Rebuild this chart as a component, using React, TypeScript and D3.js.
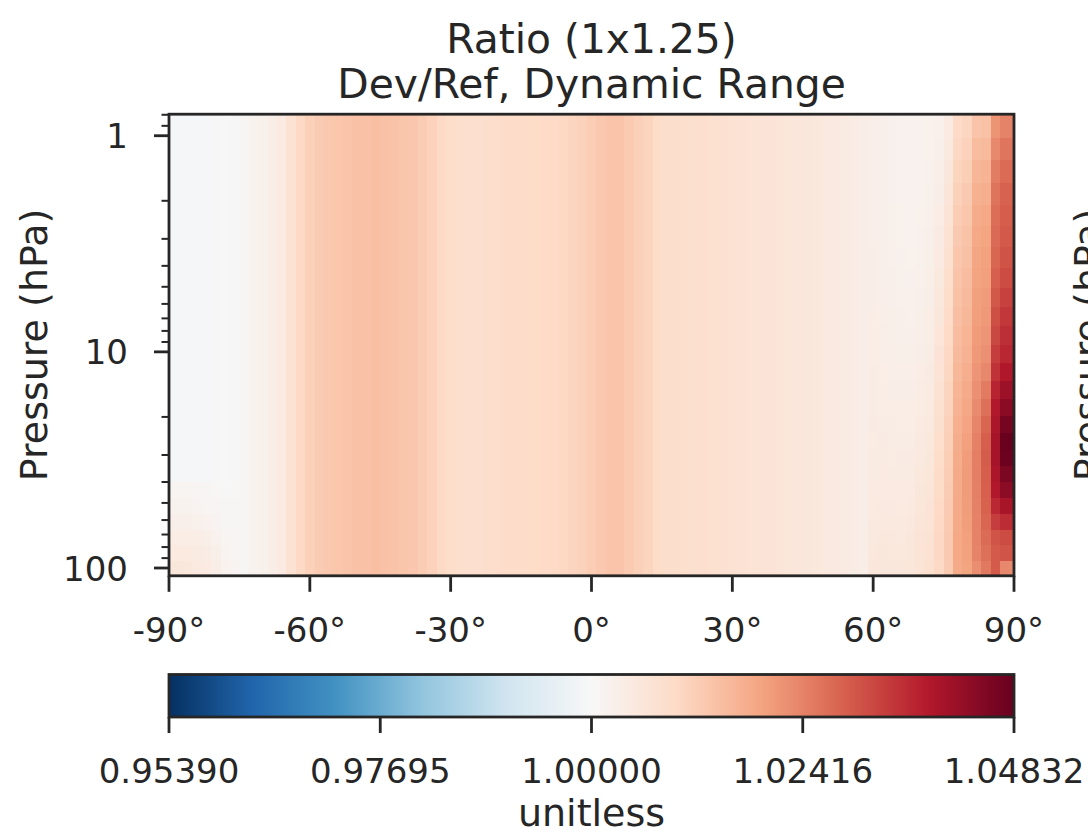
import React from 'react';
import * as d3 from 'd3';

// Pressure cell edges (hPa), top -> bottom
const pressureEdges = [0.7951, 1.0194, 1.3005, 1.6508, 2.085, 2.6202, 3.2764, 4.0766, 5.0468, 6.2168, 7.6198, 9.2929, 11.2769, 13.6434, 16.4571, 19.7916, 23.7304, 28.3678, 33.81, 40.1754, 47.6439, 56.3879, 66.6034, 78.5123, 92.3657, 108.663];

// Latitude cell edges (2 x 2.5 grid with half polar cells)
const latEdges = [-90, ...d3.range(-89, 90, 2), 90];

// Zonal ratio (Dev/Ref) for lat centers -89.5, -88, -86 ... 58 (same at all levels)
const zonalRatio = [
  0.9995, 0.9995, 0.9995, 0.9996, 0.9996, 0.9997, 0.9999, 1.0003, 1.0008, 1.0016,
  1.0024, 1.0032, 1.0045, 1.0072, 1.0098, 1.0115, 1.0125, 1.013, 1.0133, 1.0137,
  1.0141, 1.0144, 1.0147, 1.0144, 1.014, 1.0136, 1.0132, 1.0124, 1.0112, 1.0098,
  1.0088, 1.0084, 1.0082, 1.0082, 1.0085, 1.0089, 1.0091, 1.0092, 1.0093, 1.0094,
  1.0095, 1.0097, 1.0101, 1.0107, 1.0113, 1.0122, 1.0131, 1.0138, 1.0137, 1.0127,
  1.0116, 1.0108, 1.0094, 1.0087, 1.0085, 1.0084, 1.008, 1.0082, 1.0078, 1.0075,
  1.0073, 1.0071, 1.0069, 1.0067, 1.0064, 1.0061, 1.0059, 1.0057, 1.0055, 1.0053,
  1.005, 1.0047, 1.0043, 1.0038, 1.0033,
];

// Northern high-latitude columns (lat center -> 25 levels, top -> bottom)
const polarLats = [60, 62, 64, 66, 68, 70, 72, 74, 76, 78, 80, 82, 84, 86, 88, 89.5];
const polarColumns = [
  [1.003, 1.003, 1.003, 1.003, 1.0031, 1.0031, 1.0032, 1.0032, 1.0033, 1.0034, 1.0035, 1.0036, 1.0037, 1.0038, 1.0039, 1.004, 1.0041, 1.0042, 1.0043, 1.0044, 1.0046, 1.0048, 1.005, 1.0052, 1.0054],
  [1.0026, 1.0026, 1.0026, 1.0026, 1.0027, 1.0027, 1.0028, 1.0029, 1.003, 1.0031, 1.0032, 1.0033, 1.0034, 1.0035, 1.0036, 1.0038, 1.004, 1.0042, 1.0044, 1.0046, 1.0048, 1.005, 1.0052, 1.0054, 1.0056],
  [1.0023, 1.0023, 1.0023, 1.0023, 1.0024, 1.0024, 1.0025, 1.0026, 1.0027, 1.0028, 1.0029, 1.003, 1.0031, 1.0033, 1.0035, 1.0037, 1.0039, 1.0041, 1.0043, 1.0045, 1.0047, 1.0049, 1.0051, 1.0053, 1.0055],
  [1.0021, 1.0021, 1.0021, 1.0021, 1.0022, 1.0022, 1.0023, 1.0024, 1.0025, 1.0026, 1.0027, 1.0028, 1.003, 1.0032, 1.0034, 1.0036, 1.0038, 1.004, 1.0042, 1.0044, 1.0046, 1.0048, 1.005, 1.0052, 1.0054],
  [1.002, 1.002, 1.002, 1.002, 1.0021, 1.0021, 1.0022, 1.0023, 1.0024, 1.0025, 1.0026, 1.0028, 1.003, 1.0032, 1.0034, 1.0036, 1.0038, 1.004, 1.0042, 1.0045, 1.0048, 1.0051, 1.0054, 1.0056, 1.0058],
  [1.002, 1.002, 1.002, 1.0021, 1.0022, 1.0023, 1.0024, 1.0025, 1.0027, 1.0029, 1.0031, 1.0033, 1.0035, 1.0038, 1.0041, 1.0044, 1.0047, 1.005, 1.0053, 1.0056, 1.0059, 1.0062, 1.0064, 1.0066, 1.0068],
  [1.0022, 1.0022, 1.0023, 1.0024, 1.0025, 1.0026, 1.0028, 1.003, 1.0032, 1.0034, 1.0036, 1.0038, 1.004, 1.0043, 1.0046, 1.0049, 1.0052, 1.0055, 1.0058, 1.0061, 1.0064, 1.0067, 1.007, 1.0073, 1.0076],
  [1.0025, 1.0027, 1.003, 1.0033, 1.0036, 1.004, 1.0044, 1.0048, 1.0052, 1.0056, 1.006, 1.0064, 1.0068, 1.0072, 1.0076, 1.008, 1.0084, 1.0088, 1.0091, 1.0094, 1.0097, 1.0099, 1.01, 1.01, 1.0098],
  [1.0045, 1.005, 1.0056, 1.0062, 1.0068, 1.0074, 1.0079, 1.0084, 1.0088, 1.0092, 1.0096, 1.01, 1.0104, 1.0108, 1.0111, 1.0114, 1.0117, 1.012, 1.0122, 1.0124, 1.0126, 1.0127, 1.0128, 1.0128, 1.0125],
  [1.0095, 1.01, 1.0108, 1.0115, 1.0122, 1.0128, 1.0133, 1.0138, 1.0142, 1.0146, 1.015, 1.0155, 1.016, 1.0165, 1.017, 1.0175, 1.0178, 1.018, 1.0182, 1.0183, 1.0184, 1.0185, 1.0186, 1.0186, 1.0184],
  [1.0105, 1.0112, 1.012, 1.0128, 1.0134, 1.014, 1.0145, 1.015, 1.0155, 1.016, 1.0165, 1.017, 1.0176, 1.0182, 1.0188, 1.0194, 1.02, 1.0204, 1.0206, 1.0206, 1.0205, 1.0203, 1.02, 1.0198, 1.0195],
  [1.0138, 1.0152, 1.0162, 1.0172, 1.018, 1.0186, 1.0191, 1.0195, 1.0199, 1.0202, 1.0206, 1.021, 1.0215, 1.0222, 1.023, 1.0238, 1.0244, 1.0246, 1.0246, 1.0245, 1.0244, 1.0243, 1.0242, 1.024, 1.0225],
  [1.0142, 1.0156, 1.0166, 1.0176, 1.0186, 1.0193, 1.0198, 1.0202, 1.0206, 1.021, 1.0215, 1.0222, 1.0235, 1.0252, 1.0268, 1.0282, 1.0292, 1.0295, 1.0293, 1.029, 1.0286, 1.0282, 1.0275, 1.0268, 1.0255],
  [1.0217, 1.0232, 1.025, 1.0262, 1.027, 1.0276, 1.0282, 1.029, 1.03, 1.0312, 1.0322, 1.0335, 1.0352, 1.0372, 1.0387, 1.0396, 1.0402, 1.0402, 1.0396, 1.0387, 1.0365, 1.0335, 1.0305, 1.0296, 1.0296],
  [1.0241, 1.0261, 1.0275, 1.0287, 1.0294, 1.0298, 1.0307, 1.0318, 1.033, 1.0344, 1.0356, 1.0367, 1.0389, 1.0414, 1.0437, 1.0465, 1.048, 1.0476, 1.0457, 1.0436, 1.04, 1.036, 1.0318, 1.0305, 1.0235],
  [1.0241, 1.0261, 1.0275, 1.0287, 1.0294, 1.0298, 1.0307, 1.0318, 1.033, 1.0344, 1.0356, 1.0367, 1.0389, 1.0414, 1.0437, 1.0465, 1.04832, 1.0476, 1.0457, 1.0436, 1.04, 1.036, 1.0318, 1.0305, 1.0231],
];

// South-polar lower-level cells: rows 19..24, lat centers -89.5 .. -76
const southRowStart = 19;
const southLats = [-89.5, -88, -86, -84, -82, -80, -78, -76];
const southRows = [
  [1.001, 1.001, 1.001, 1.0009, 1.0007, 1.0005, 1.0003, 1.0004],
  [1.0017, 1.0017, 1.0017, 1.0015, 1.0012, 1.0009, 1.0006, 1.0006],
  [1.0026, 1.0026, 1.0026, 1.0024, 1.002, 1.0014, 1.0008, 1.0008],
  [1.0036, 1.0036, 1.0036, 1.0034, 1.0029, 1.002, 1.0012, 1.001],
  [1.0046, 1.0046, 1.0046, 1.0043, 1.0037, 1.0028, 1.0015, 1.0012],
  [1.0055, 1.0055, 1.0053, 1.005, 1.0044, 1.0033, 1.002, 1.0014],
];

const xTicks = [-90, -60, -30, 0, 30, 60, 90];
const yMajorTicks = [1, 10, 100];
const yMinorTicks = [0.8, 0.9, 2, 3, 4, 5, 6, 7, 8, 9, 20, 30, 40, 50, 60, 70, 80, 90];
const cbarTicks = [0.9539, 0.97695, 1.0, 1.02416, 1.04832];
const vmin = 0.9539, vcenter = 1.0, vmax = 1.04832;
const rdbuR = ['#053061', '#2166ac', '#4393c3', '#92c5de', '#d1e5f0', '#f7f7f7', '#fddbc7', '#f4a582', '#d6604d', '#b2182b', '#67001f'];

const W = 1088, H = 833;
const INK = '#262626';
const FONT = "'DejaVu Sans', sans-serif";

export default function App() {
  const left = 169, right = 1014, top = 114.2, bottom = 575.8;
  const x = d3.scaleLinear().domain([-90, 90]).range([left, right]);
  const y = d3.scaleLog().domain([pressureEdges[0], pressureEdges[pressureEdges.length - 1]]).range([top, bottom]);
  const norm = d3.scaleLinear().domain([vmin, vcenter, vmax]).range([0, 0.5, 1]).clamp(true);
  const cmap = d3.scaleLinear<string>().domain(rdbuR.map((_, i) => i / (rdbuR.length - 1))).range(rdbuR).interpolate(d3.interpolateRgb).clamp(true);
  const color = (v: number) => cmap(norm(v));

  const nLat = latEdges.length - 1;
  const nLev = pressureEdges.length - 1;
  const latCenter = (i: number) => (latEdges[i] + latEdges[i + 1]) / 2;

  const valueAt = (i: number, j: number) => {
    const lat = latCenter(i);
    const pi = polarLats.indexOf(lat);
    if (pi >= 0) return polarColumns[pi][j];
    const si = southLats.indexOf(lat);
    if (si >= 0 && j >= southRowStart) return southRows[j - southRowStart][si];
    return zonalRatio[i];
  };

  const cells: any[] = [];
  for (let i = 0; i < nLat; i++) {
    for (let j = 0; j < nLev; j++) {
      const x0 = x(latEdges[i]), x1 = x(latEdges[i + 1]);
      const y0 = y(pressureEdges[j]), y1 = y(pressureEdges[j + 1]);
      cells.push(<rect key={`${i}-${j}`} x={x0} y={y0} width={x1 - x0 + 0.5} height={y1 - y0 + 0.5} fill={color(valueAt(i, j))} />);
    }
  }

  const cbTop = 674.5, cbBottom = 717;
  const cbx = d3.scaleLinear().domain([vmin, vcenter, vmax]).range([left, (left + right) / 2, right]);

  return (
    <svg width={W} height={H} viewBox={`0 0 ${W} ${H}`} style={{ position: 'absolute', left: 0, top: 0, background: '#fff' }} fontFamily={FONT}>
      <rect x={0} y={0} width={W} height={H} fill="#fff" />
      <defs>
        <linearGradient id="cbg" x1="0" x2="1" y1="0" y2="0">
          {rdbuR.map((c, i) => <stop key={i} offset={`${(i / (rdbuR.length - 1)) * 100}%`} stopColor={c} />)}
        </linearGradient>
        <clipPath id="plotclip"><rect x={left} y={top} width={right - left} height={bottom - top} /></clipPath>
      </defs>

      {/* title */}
      <text x={(left + right) / 2} y={53} textAnchor="middle" fontSize={40.8} fill={INK}>Ratio (1x1.25)</text>
      <text x={(left + right) / 2} y={98} textAnchor="middle" fontSize={40.8} fill={INK}>Dev/Ref, Dynamic Range</text>

      {/* heatmap */}
      <g clipPath="url(#plotclip)" shapeRendering="crispEdges">{cells}</g>

      {/* frame */}
      <rect x={left} y={top} width={right - left} height={bottom - top} fill="none" stroke={INK} strokeWidth={2.8} />

      {/* y ticks */}
      {yMinorTicks.map((t) => (
        <line key={`ym${t}`} x1={left - 7.5} x2={left} y1={y(t)} y2={y(t)} stroke={INK} strokeWidth={2} />
      ))}
      {yMajorTicks.map((t) => (
        <g key={`yM${t}`}>
          <line x1={left - 15} x2={left} y1={y(t)} y2={y(t)} stroke={INK} strokeWidth={2.8} />
          <text x={128} y={y(t) + 12.5} textAnchor="end" fontSize={34} fill={INK}>{t}</text>
        </g>
      ))}

      {/* x ticks */}
      {xTicks.map((t) => (
        <g key={`x${t}`}>
          <line x1={x(t)} x2={x(t)} y1={bottom} y2={bottom + 16} stroke={INK} strokeWidth={2.8} />
          <text x={x(t)} y={642} textAnchor="middle" fontSize={34} fill={INK}>{`${t}°`}</text>
        </g>
      ))}

      {/* y label */}
      <text transform={`translate(47,${(top + bottom) / 2}) rotate(-90)`} textAnchor="middle" fontSize={38} fill={INK}>Pressure (hPa)</text>
      {/* neighbouring panel's y label, cut by the edge as in the reference */}
      <text transform={`translate(1101,${(top + bottom) / 2}) rotate(-90)`} textAnchor="middle" fontSize={38} fill={INK}>Pressure (hPa)</text>

      {/* colorbar */}
      <rect x={left} y={cbTop} width={right - left} height={cbBottom - cbTop} fill="url(#cbg)" />
      <rect x={left} y={cbTop} width={right - left} height={cbBottom - cbTop} fill="none" stroke={INK} strokeWidth={2.8} />
      {cbarTicks.map((t) => (
        <g key={`cb${t}`}>
          <line x1={cbx(t)} x2={cbx(t)} y1={cbBottom} y2={cbBottom + 16} stroke={INK} strokeWidth={2.8} />
          <text x={cbx(t)} y={783} textAnchor="middle" fontSize={34} fill={INK}>{t.toFixed(5)}</text>
        </g>
      ))}
      <text x={(left + right) / 2} y={826} textAnchor="middle" fontSize={38} fill={INK}>unitless</text>
    </svg>
  );
}
